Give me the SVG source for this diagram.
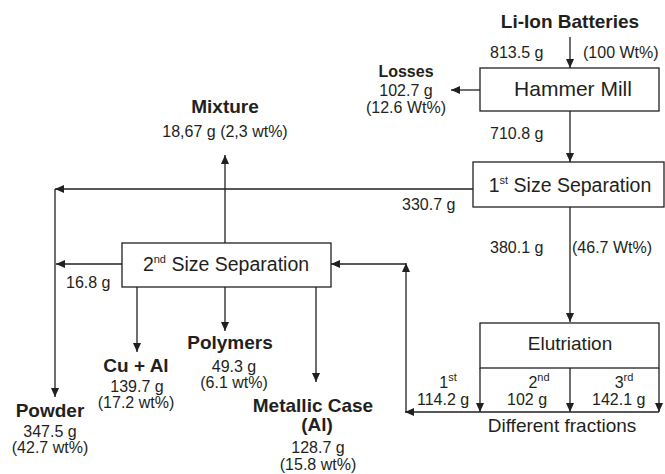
<svg xmlns="http://www.w3.org/2000/svg" width="665" height="474" viewBox="0 0 665 474">
<defs>
<marker id="ah" markerWidth="10" markerHeight="8" refX="9" refY="4" orient="auto" markerUnits="userSpaceOnUse">
<path d="M0,0 L9,4 L0,8 Z" fill="#231f20"/>
</marker>
<style>
.box{fill:#fff;stroke:#231f20;stroke-width:1.3}
.ln{fill:none;stroke:#231f20;stroke-width:1.3}
.ar{fill:none;stroke:#231f20;stroke-width:1.3;marker-end:url(#ah)}
text{font-family:"Liberation Sans",Arial,sans-serif;fill:#231f20}
.t{font-size:16px}
.b{font-size:19px;font-weight:bold}
.bs{font-size:16px;font-weight:bold}
.n{font-size:19.5px}
.m{text-anchor:middle}
.sup{font-size:11px}
</style>
</defs>
<rect width="665" height="474" fill="#fff"/>
<g id="connectors">
<line class="ar" x1="570" y1="37" x2="570" y2="68"/>
<line class="ar" x1="480" y1="90" x2="451" y2="90"/>
<line class="ar" x1="570" y1="111" x2="570" y2="162"/>
<line class="ar" x1="473" y1="189" x2="55" y2="189"/>
<line class="ar" x1="55" y1="189" x2="55" y2="397"/>
<line class="ar" x1="225" y1="243" x2="225" y2="155"/>
<line class="ar" x1="122" y1="264" x2="56" y2="264"/>
<line class="ar" x1="137" y1="287" x2="137" y2="352"/>
<line class="ar" x1="225" y1="287" x2="225" y2="331"/>
<line class="ar" x1="316" y1="287" x2="316" y2="382"/>
<line class="ar" x1="570" y1="207" x2="570" y2="322"/>
<line class="ar" x1="480" y1="368" x2="480" y2="412"/>
<line class="ar" x1="570" y1="368" x2="570" y2="412"/>
<line class="ar" x1="659" y1="368" x2="659" y2="412"/>
<line class="ar" x1="659" y1="412" x2="405" y2="412"/>
<line class="ar" x1="406" y1="412" x2="406" y2="263"/>
<line class="ar" x1="406" y1="264" x2="331" y2="264"/>
</g>
<g id="input">
<text class="b m" x="570" y="28">Li-Ion Batteries</text>
<text class="t" x="490" y="58">813.5 g</text>
<text class="t" x="583" y="58">(100 Wt%)</text>
</g>
<g id="hammer-mill">
<rect class="box" x="480" y="68" width="179" height="43"/>
<text class="m" x="573" y="96" style="font-size:21px">Hammer Mill</text>
</g>
<g id="losses">
<text class="bs m" x="406" y="77">Losses</text>
<text class="t m" x="406" y="96">102.7 g</text>
<text class="t m" x="406" y="113">(12.6 Wt%)</text>
</g>
<g id="first-size-separation">
<rect class="box" x="473" y="162" width="191" height="45"/>
<text class="n m" x="570" y="192">1<tspan class="sup" dy="-8">st</tspan><tspan dy="8"> Size Separation</tspan></text>
</g>
<g id="labels-flow">
<text class="t" x="490" y="139">710.8 g</text>
<text class="t" x="402" y="210">330.7 g</text>
<text class="t" x="66" y="288">16.8 g</text>
<text class="t" x="490" y="253">380.1 g</text>
<text class="t" x="572" y="253">(46.7 Wt%)</text>
</g>
<g id="mixture">
<text class="b m" x="225" y="113">Mixture</text>
<text class="t m" x="225" y="137">18,67 g (2,3 wt%)</text>
</g>
<g id="second-size-separation">
<rect class="box" x="122" y="243" width="209" height="44"/>
<text class="n m" x="226" y="271">2<tspan class="sup" dy="-8">nd</tspan><tspan dy="8"> Size Separation</tspan></text>
</g>
<g id="powder">
<text class="b m" x="50" y="417">Powder</text>
<text class="t m" x="50" y="437">347.5 g</text>
<text class="t m" x="50" y="453">(42.7 wt%)</text>
</g>
<g id="cu-al">
<text class="b m" x="136" y="372">Cu + Al</text>
<text class="t m" x="137" y="392">139.7 g</text>
<text class="t m" x="136" y="408">(17.2 wt%)</text>
</g>
<g id="polymers">
<text class="b m" x="230" y="349">Polymers</text>
<text class="t m" x="234" y="372">49.3 g</text>
<text class="t m" x="234" y="388">(6.1 wt%)</text>
</g>
<g id="metallic-case">
<text class="b m" x="313" y="412">Metallic Case</text>
<text class="b m" x="317" y="431">(Al)</text>
<text class="t m" x="318" y="453">128.7 g</text>
<text class="t m" x="318" y="470">(15.8 wt%)</text>
</g>
<g id="elutriation">
<rect class="box" x="480" y="323" width="179" height="45"/>
<text class="m" x="570" y="350" style="font-size:19px">Elutriation</text>
</g>
<g id="fractions">
<text class="t m" x="448" y="388">1<tspan class="sup" dy="-7">st</tspan></text>
<text class="t" x="417" y="405">114.2 g</text>
<text class="t m" x="539" y="388">2<tspan class="sup" dy="-7">nd</tspan></text>
<text class="t" x="507" y="405">102 g</text>
<text class="t m" x="624" y="388">3<tspan class="sup" dy="-7">rd</tspan></text>
<text class="t" x="592" y="405">142.1 g</text>
<text class="m" x="562" y="432" style="font-size:19px">Different fractions</text>
</g>
</svg>
